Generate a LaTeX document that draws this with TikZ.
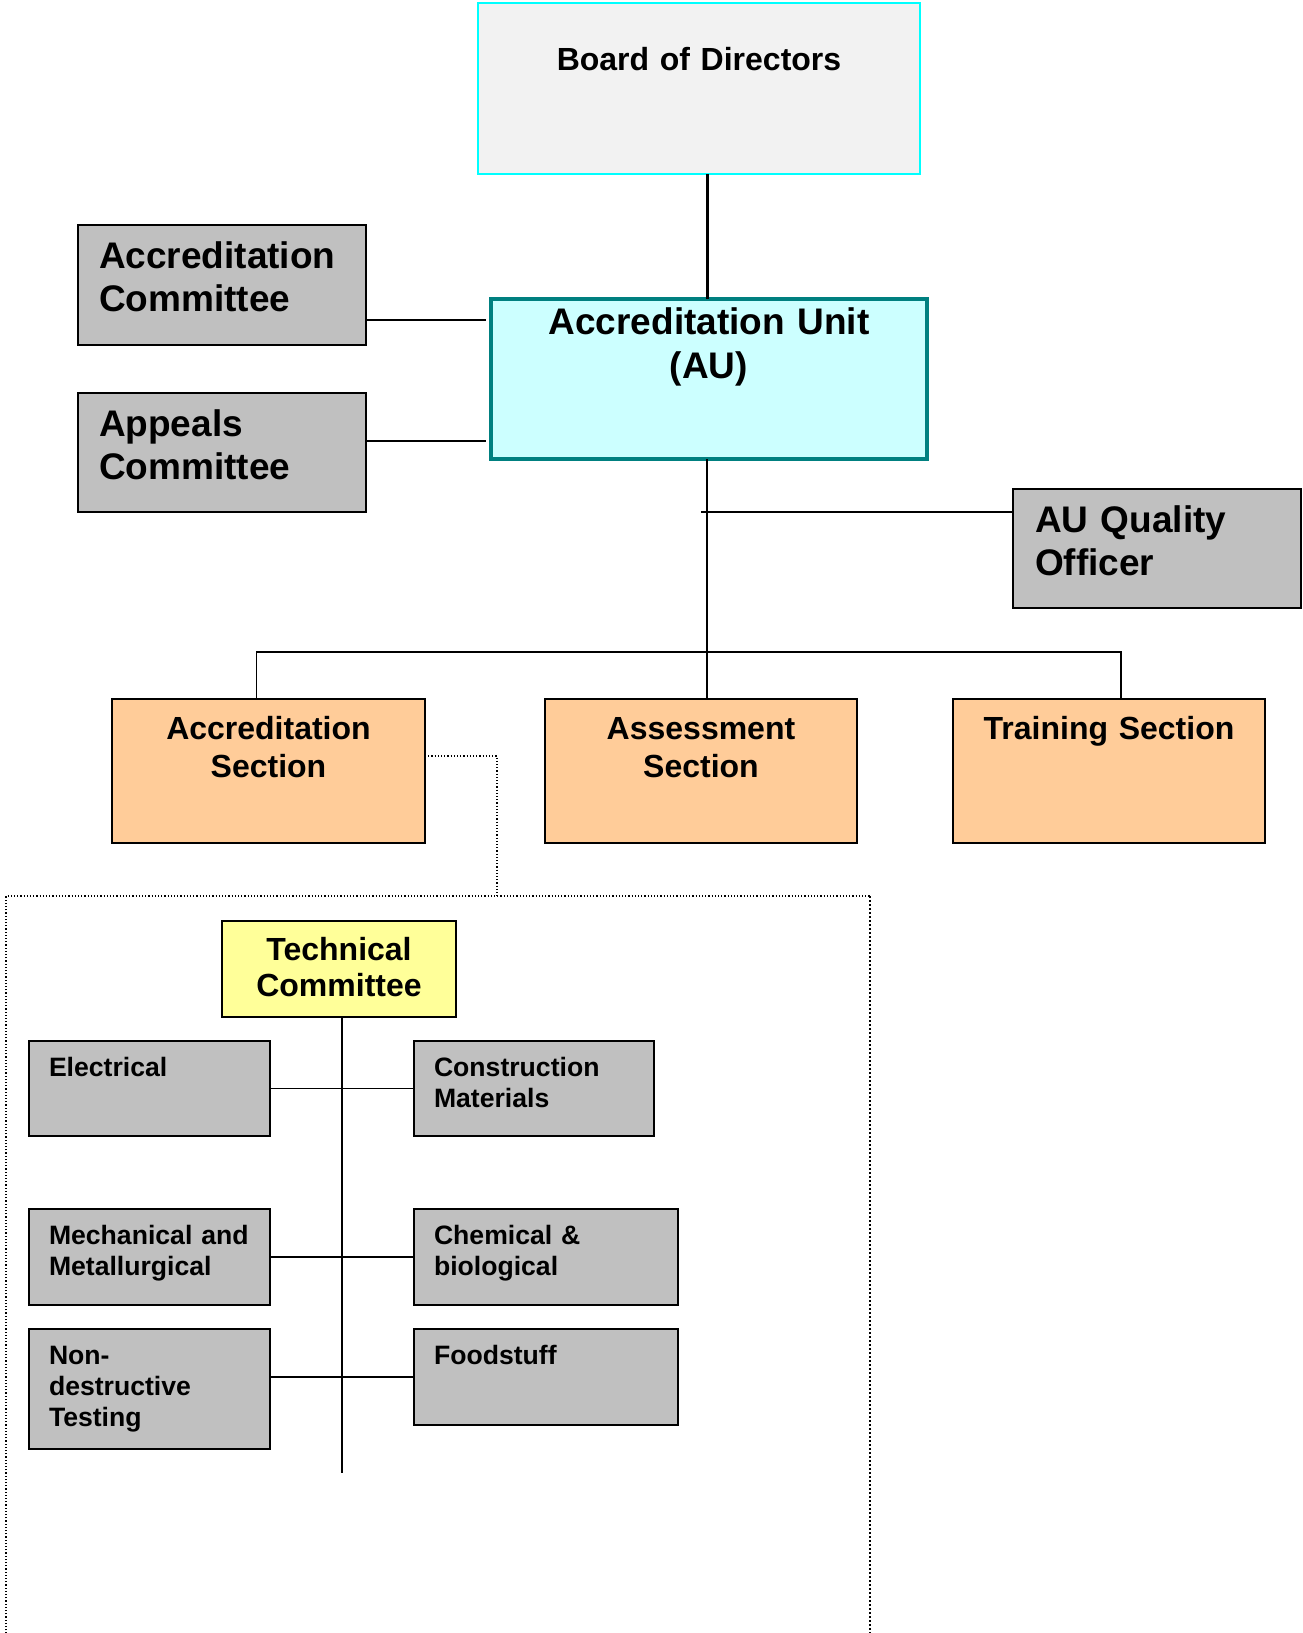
\documentclass[tikz,border=0pt]{standalone}
\usepackage{fontspec}
\setmainfont{Liberation Sans}
\usetikzlibrary{positioning}

\definecolor{boardgrey}{HTML}{F2F2F2}
\definecolor{boardcyan}{HTML}{00FFFF}
\definecolor{unitfill}{HTML}{CCFFFF}
\definecolor{unitline}{HTML}{008080}
\definecolor{boxgrey}{HTML}{C0C0C0}
\definecolor{secorange}{HTML}{FFCC99}
\definecolor{techyellow}{HTML}{FFFF99}

\tikzset{
    every node/.style={inner sep=0pt, outer sep=0pt, anchor=north west, line width=0.9pt},
    bigbox/.style={draw=black, fill=boxgrey, align=left, inner xsep=10.5pt,
        text width=123pt, text height=21.5pt, text depth=38.5pt,
        font=\bfseries\fontsize{18.5}{21.5}\selectfont},
    section/.style={draw=black, fill=secorange, align=center, text width=156pt,
        text height=20pt, text depth=52pt,
        font=\bfseries\fontsize{16}{19.3}\selectfont},
    field/.style={draw=black, fill=boxgrey, align=left, inner xsep=10pt,
        text height=17.5pt, text depth=30pt,
        font=\bfseries\fontsize{13.3}{15.6}\selectfont},
    link/.style={line width=0.8pt},
    dots/.style={densely dotted, line width=0.6pt}
}

\begin{document}
\begin{tikzpicture}[x=1pt, y=-1pt]
        \useasboundingbox (0,0) rectangle (651,816.5);

        % top of the chart
        \node[draw=boardcyan, fill=boardgrey, line width=1.2pt, align=center,
            text width=221pt, text height=33.8pt, text depth=51.7pt,
            font=\bfseries\fontsize{16}{19}\selectfont] (board) at (239,1.5) {Board of Directors};
        \node[draw=unitline, fill=unitfill, line width=2pt, align=center,
            text width=218pt, text height=17.7pt, text depth=62.3pt,
            font=\bfseries\fontsize{18.5}{22}\selectfont] (au) at (245.5,149.5) {Accreditation Unit\\(AU)};
        \node[bigbox] (acc) at (39,112.5) {Accreditation\\Committee};
        \node[bigbox, text depth=38pt, below=24pt of acc] (app) {Appeals\\Committee};
        \node[bigbox, text depth=38pt, inner xsep=11pt, text width=122pt] (auq) at (506.5,244.5) {AU Quality\\Officer};

        % sections
        \node[section, text width=156.5pt] (acred) at (56,349.5) {Accreditation\\Section};
        \node[section, right=60pt of acred] (assess) {Assessment\\Section};
        \node[section, right=48pt of assess] (train) {Training Section};

        % technical committee
        \node[draw=black, fill=techyellow, align=center, text width=117pt,
            text height=19.5pt, text depth=28.5pt,
            font=\bfseries\fontsize{16}{18.3}\selectfont] (tech) at (111,460.5) {Technical\\Committee};
        \node[field, text width=100.5pt] (elec) at (14.5,520.5) {Electrical};
        \node[field, text width=100pt, right=72pt of elec] (constr) {Construction\\Materials};
        \node[field, text width=100.5pt, text depth=30.5pt, below=36.5pt of elec] (mech) {Mechanical and\\Metallurgical};
        \node[field, text width=112pt, text depth=30.5pt, right=72pt of mech] (chem) {Chemical \&\\biological};
        \node[field, text width=100.5pt, text depth=42.5pt, below=12pt of mech] (ndt) {Non-\\destructive\\Testing};
        \node[field, text width=112pt, text depth=30.5pt, below=12pt of chem] (food) {Foodstuff};

        \coordinate (bus) at (353.5,326);
        \coordinate (qtap) at (350.5,256);
        \coordinate (frametop) at (248.5,448);
        \coordinate (trunkend) at (171,736.5);

        % connectors
        \draw[line width=1.5pt] ([xshift=-1pt]board.south -| au.north) -- ([xshift=-1pt]au.north);
        \draw[link, shorten >=2.5pt] ([yshift=-17.5pt]acc.east) -- ([yshift=-17.5pt]acc.east -| au.west);
        \draw[link, shorten >=2.5pt] ([yshift=5.75pt]app.east) -- ([yshift=5.75pt]app.east -| au.west);
        \draw[link] (au.south -| bus) -- (bus |- assess.north);
        \draw[link] (qtap) -- (qtap -| auq.west);
        \draw[link] ([xshift=-6pt]acred.north) |- (bus) -| ([xshift=6pt]train.north);

        % dotted frame round the technical committee
        \draw[dots] ([yshift=7.5pt]acred.east) -| (frametop);
        \draw[dots] (3,820) -- (3,448) -- (435,448);
        \draw[densely dotted, line width=1pt] (435,448) -- (435,820);

        \draw[link] (tech.south -| trunkend) -- (trunkend);
        \draw[link] (elec.east) -- (constr.west);
        \draw[link] (mech.east) -- (chem.west);
        \draw[link] (food.west -| ndt.east) -- (food.west);
    \end{tikzpicture}
\end{document}
